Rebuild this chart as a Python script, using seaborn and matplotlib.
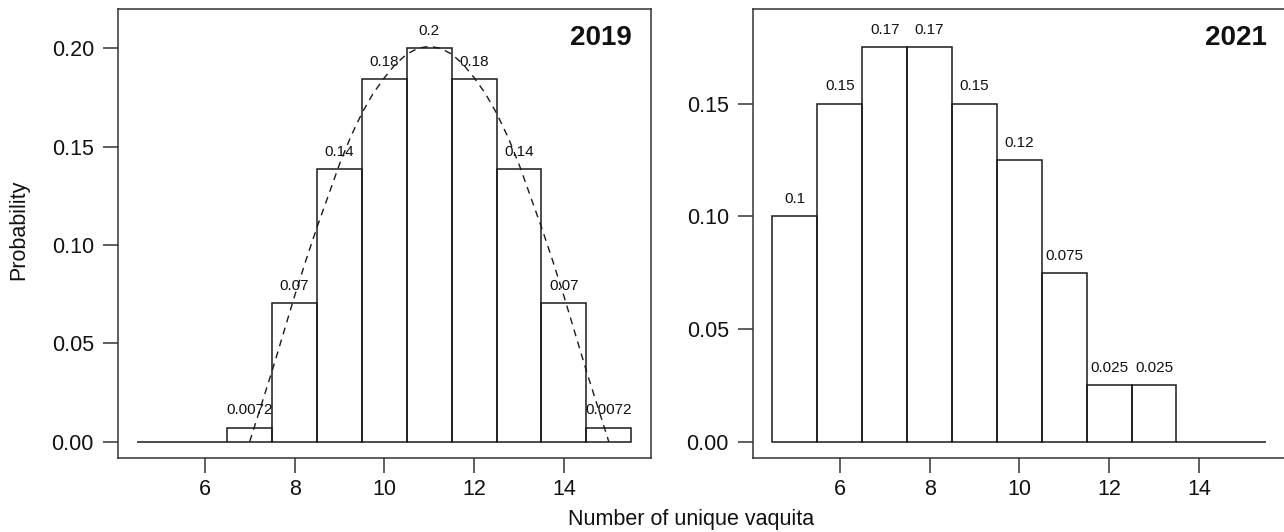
import numpy as np
import pandas as pd
import matplotlib
matplotlib.use("Agg")
import matplotlib.pyplot as plt
import seaborn as sns

# ---- data ----
counts = [5, 6, 7, 8, 9, 10, 11, 12, 13, 14, 15]
prob_2019 = [0.0, 0.0, 0.0072, 0.0703, 0.1385, 0.1842, 0.2000, 0.1842, 0.1385, 0.0703, 0.0072]
prob_2021 = [0.100, 0.150, 0.175, 0.175, 0.150, 0.125, 0.075, 0.025, 0.025, 0.0, 0.0]

# dashed prior curve for 2019
curve_x = [7.0, 7.25, 7.5, 7.75, 8.0, 8.25, 8.5, 8.75, 9.0, 9.25, 9.5, 9.75, 10.0,
           10.25, 10.5, 10.75, 11.0, 11.25, 11.5, 11.75, 12.0, 12.25, 12.5, 12.75,
           13.0, 13.25, 13.5, 13.75, 14.0, 14.25, 14.5, 14.75, 15.0]
curve_y = [0.0, 0.018, 0.036, 0.055, 0.074, 0.092, 0.109, 0.125, 0.141, 0.155, 0.167,
           0.177, 0.185, 0.192, 0.197, 0.200, 0.201, 0.200, 0.197, 0.192, 0.185, 0.177,
           0.167, 0.155, 0.141, 0.125, 0.109, 0.092, 0.074, 0.055, 0.036, 0.018, 0.0]

years = ["2019", "2021"]
x_ticks = [6, 8, 10, 12, 14]
y_ticks_2019 = [0.00, 0.05, 0.10, 0.15, 0.20]
y_ticks_2021 = [0.00, 0.05, 0.10, 0.15]
x_label = "Number of unique vaquita"
y_label = "Probability"

# ---- style ----
sns.set_theme(style="white")
plt.rcParams["font.family"] = ["Liberation Sans", "DejaVu Sans"]

W, H = 1284, 532
fig = plt.figure(figsize=(W / 100, H / 100), dpi=100)

bot = (H - 458.3) / H
hgt = (458.3 - 9.3) / H
ax1 = fig.add_axes([117.7 / W, bot, (651.0 - 117.7) / W, hgt])
ax2 = fig.add_axes([752.7 / W, bot, (1286.0 - 752.7) / W, hgt])

line_col = "#1a1a1a"
frame_col = "#333333"

df19 = pd.DataFrame({"n": counts, "p": prob_2019})
df21 = pd.DataFrame({"n": counts, "p": prob_2021})

for ax, df, yr, yticks, ylim in [
    (ax1, df19, years[0], y_ticks_2019, (-0.00845, 0.2198)),
    (ax2, df21, years[1], y_ticks_2021, (-0.0074, 0.1918)),
]:
    sns.histplot(data=df, x="n", weights="p", discrete=True, fill=False,
                 element="bars", color=line_col, linewidth=1.1, ax=ax)
    for xv, pv in zip(df["n"], df["p"]):
        if pv > 0:
            ax.annotate(f"{pv:.2g}", (xv, pv), xytext=(0, 9.4),
                        textcoords="offset points", ha="center", va="baseline",
                        fontsize=11, color="#111111")
    ax.set_xlim(4.06, 15.94)
    ax.set_ylim(*ylim)
    ax.set_xticks(x_ticks)
    ax.set_xticklabels([str(t) for t in x_ticks])
    ax.set_yticks(yticks)
    ax.set_yticklabels([f"{t:.2f}" for t in yticks])
    ax.set_xlabel("")
    ax.set_ylabel("")
    ax.tick_params(axis="both", which="major", direction="out", length=10.6,
                   width=1.1, color=frame_col, labelsize=15.5, labelcolor="#111111")
    ax.tick_params(axis="y", pad=6.5, left=True)
    ax.tick_params(axis="x", pad=4, bottom=True)
    for sp in ax.spines.values():
        sp.set_visible(True)
        sp.set_color(frame_col)
        sp.set_linewidth(1.1)
    ax.text(0.964, 0.965, yr, transform=ax.transAxes, ha="right", va="top",
            fontsize=20, fontweight="bold", color="#111111")
    ax.grid(False)

sns.lineplot(x=curve_x, y=curve_y, ax=ax1, color=line_col, linewidth=1.0,
             linestyle=(0, (5, 4)), sort=False)

fig.text(568 / W, (H - 525) / H, x_label, ha="left", va="baseline",
         fontsize=15.5, color="#111111")
fig.text(19 / W, (H - 230) / H, y_label, ha="center", va="center",
         rotation=90, fontsize=15.5, color="#111111")

fig.savefig("out.png", dpi=100)
